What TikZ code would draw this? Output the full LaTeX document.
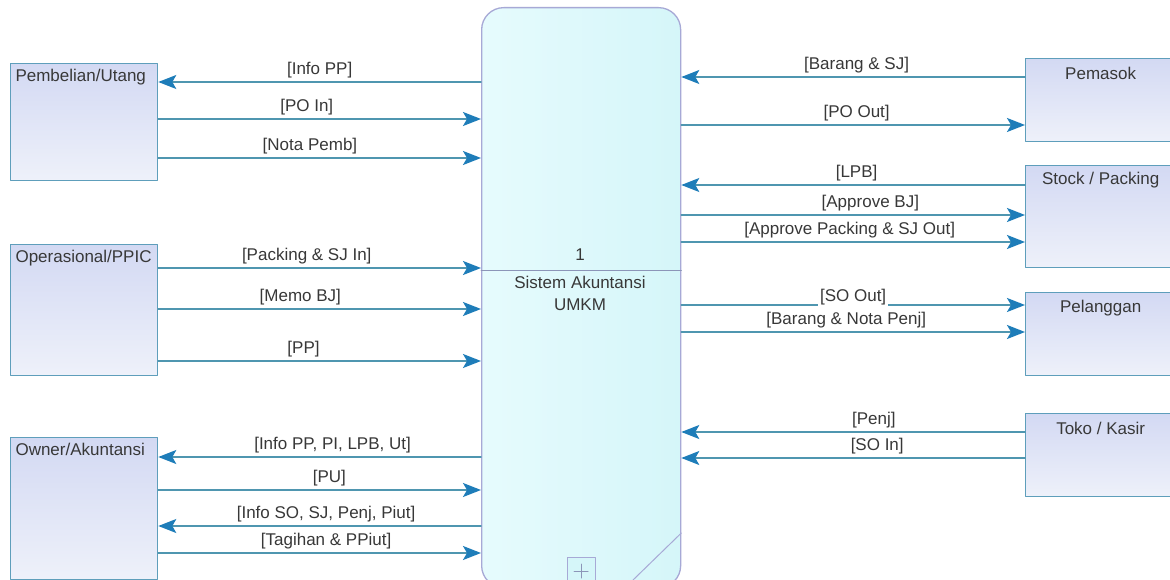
\documentclass[tikz,border=0pt]{standalone}
\usepackage{fontspec}
\setmainfont{Liberation Sans}
\usetikzlibrary{arrows.meta,positioning}
\definecolor{dfdFlow}{HTML}{4F96B0}
\definecolor{dfdTip}{HTML}{1E7DB9}
\definecolor{dfdEdge}{HTML}{5E9EBB}
\definecolor{dfdTop}{HTML}{D3D9F3}
\definecolor{dfdBottom}{HTML}{EEF1FA}
\definecolor{dfdProcEdge}{HTML}{A7A9D6}
\definecolor{dfdProcLeft}{HTML}{E6FBFD}
\definecolor{dfdProcRight}{HTML}{D5F6F9}
\definecolor{dfdRule}{HTML}{8C95B8}
\definecolor{dfdInk}{HTML}{383838}

\begin{document}
\begin{tikzpicture}[x=1pt,y=-1pt,>={Stealth[length=18pt,width=14pt,inset=4pt,color=dfdTip]},line cap=round,line join=round,font=\fontsize{17}{22}\selectfont,text=dfdInk]
\path[use as bounding box,fill=white] (0,0) rectangle (1170,580);
\tikzset{entity/.style={draw=dfdEdge,line width=1.3pt,top color=dfdTop,bottom color=dfdBottom,inner sep=0pt,anchor=north west},process/.style={draw=dfdProcEdge,line width=1.3pt,left color=dfdProcLeft,right color=dfdProcRight,rounded corners=22pt,inner sep=0pt,anchor=north west},flow/.style={draw=dfdFlow,line width=1.6pt},lbl/.style={above,inner sep=3pt}}
\node[process,minimum width=199pt,minimum height=580pt] (sys) at (481,7) {};
\draw[dfdRule,line width=1pt] (sys.west |- 0,270) -- (sys.east |- 0,270);
\node (num) at (580,255) {1};
\node[align=center,anchor=north] (name) at (580,273) {Sistem Akuntansi\\UMKM};
\node[draw=dfdProcEdge,line width=1pt,fill=dfdProcRight,minimum size=28pt,inner sep=0pt] (plus) at (581,571) {};
\draw[dfdRule,line width=1pt] (plus.center) ++(-7,0) -- ++(14,0) (plus.center) ++(0,-7) -- ++(0,14);
\draw[dfdProcEdge,line width=1pt] (sys.east |- 0,533) -- (633,580);
\node[entity,minimum width=147pt,minimum height=117pt,label={[anchor=north west,xshift=2pt,yshift=-3pt]north west:Pembelian/Utang}] (pu) at (10,63) {};
\node[entity,minimum width=147pt,minimum height=131pt,label={[anchor=north west,xshift=2pt,yshift=-3pt]north west:Operasional/PPIC}] (op) at (10,244) {};
\node[entity,minimum width=147pt,minimum height=142pt,label={[anchor=north west,xshift=2pt,yshift=-3pt]north west:Owner/Akuntansi}] (ow) at (10,437) {};
\node[entity,minimum width=150pt,minimum height=83pt,label={[anchor=north,yshift=-6pt]north:Pemasok}] (pm) at (1025,58) {};
\node[entity,minimum width=150pt,minimum height=102pt,label={[anchor=north,yshift=-4pt]north:Stock / Packing}] (sp) at (1025,165) {};
\node[entity,minimum width=150pt,minimum height=83pt,label={[anchor=north,yshift=-5pt]north:Pelanggan}] (pl) at (1025,292) {};
\node[entity,minimum width=150pt,minimum height=83pt,label={[anchor=north,yshift=-6pt]north:Toko / Kasir}] (tk) at (1025,413) {};
\draw[flow,<-] (pu.east |- 0,82) -- node[lbl]{[Info PP]} (sys.west |- 0,82);
\draw[flow,->] (pu.east |- 0,119) -- node[lbl,pos=.46]{[PO In]} (sys.west |- 0,119);
\draw[flow,->] (pu.east |- 0,158) -- node[lbl,pos=.47]{[Nota Pemb]} (sys.west |- 0,158);
\draw[flow,->] (op.east |- 0,268) -- node[lbl,pos=.46]{[Packing \& SJ In]} (sys.west |- 0,268);
\draw[flow,->] (op.east |- 0,309) -- node[lbl,pos=.44]{[Memo BJ]} (sys.west |- 0,309);
\draw[flow,->] (op.east |- 0,361) -- node[lbl,pos=.45]{[PP]} (sys.west |- 0,361);
\draw[flow,<-] (ow.east |- 0,457) -- node[lbl,pos=.54]{[Info PP, PI, LPB, Ut]} (sys.west |- 0,457);
\draw[flow,->] (ow.east |- 0,490) -- node[lbl,pos=.53]{[PU]} (sys.west |- 0,490);
\draw[flow,<-] (ow.east |- 0,526) -- node[lbl,pos=.52]{[Info SO, SJ, Penj, Piut]} (sys.west |- 0,526);
\draw[flow,->] (ow.east |- 0,553) -- node[lbl,pos=.52]{[Tagihan \& PPiut]} (sys.west |- 0,553);
\draw[flow,<-] (sys.east |- 0,77) -- node[lbl,pos=.51]{[Barang \& SJ]} (pm.west |- 0,77);
\draw[flow,->] (sys.east |- 0,125) -- node[lbl,pos=.51]{[PO Out]} (pm.west |- 0,125);
\draw[flow,<-] (sys.east |- 0,185) -- node[lbl,pos=.51]{[LPB]} (sp.west |- 0,185);
\draw[flow,->] (sys.east |- 0,215) -- node[lbl,pos=.55]{[Approve BJ]} (sp.west |- 0,215);
\draw[flow,->] (sys.east |- 0,242) -- node[lbl,pos=.49]{[Approve Packing \& SJ Out]} (sp.west |- 0,242);
\draw[flow,->] (sys.east |- 0,305) -- node[lbl,fill=white,inner sep=2pt,yshift=-3pt]{[SO Out]} (pl.west |- 0,305);
\draw[flow,->] (sys.east |- 0,332) -- node[lbl,pos=.48]{[Barang \& Nota Penj]} (pl.west |- 0,332);
\draw[flow,<-] (sys.east |- 0,432) -- node[lbl,pos=.56]{[Penj]} (tk.west |- 0,432);
\draw[flow,<-] (sys.east |- 0,458) -- node[lbl,pos=.57]{[SO In]} (tk.west |- 0,458);
\end{tikzpicture}
\end{document}
